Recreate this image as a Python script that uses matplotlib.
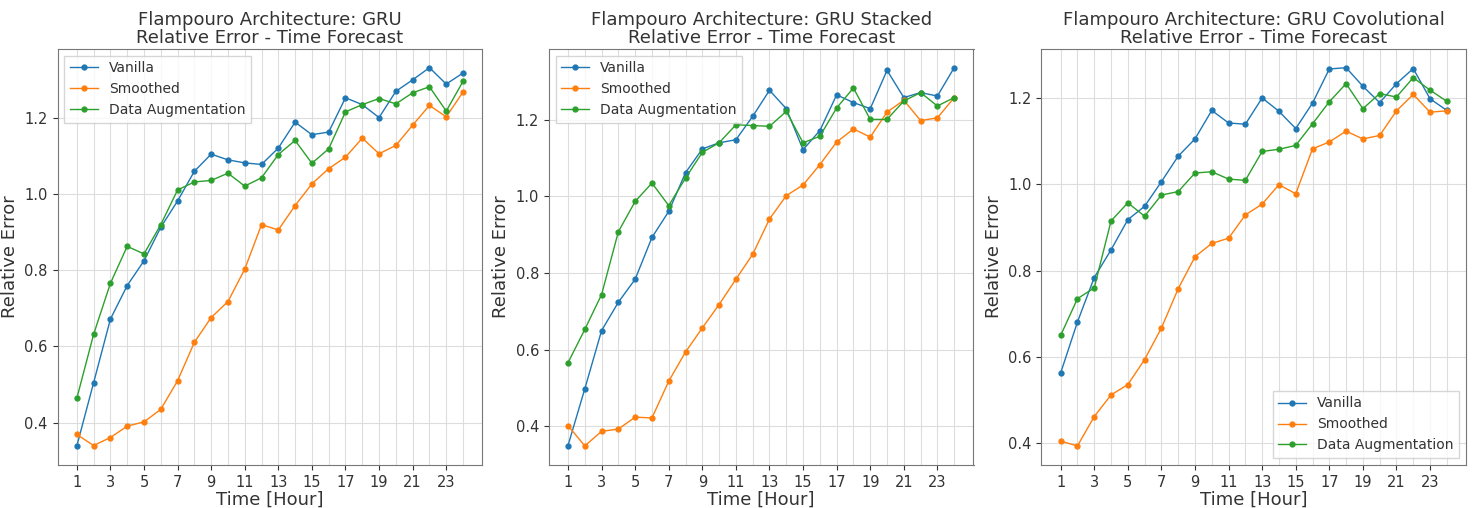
import matplotlib
matplotlib.use("Agg")
import matplotlib.pyplot as plt
import numpy as np

hours = list(range(1, 25))
series_names = ["Vanilla", "Smoothed", "Data Augmentation"]
titles = ["Flampouro Architecture: GRU",
          "Flampouro Architecture: GRU Stacked",
          "Flampouro Architecture: GRU Covolutional"]

# GRU
gru_vanilla = [0.339, 0.505, 0.672, 0.760, 0.825, 0.913, 0.982, 1.060, 1.105, 1.090,
               1.082, 1.078, 1.121, 1.189, 1.156, 1.163, 1.253, 1.235, 1.201, 1.270,
               1.300, 1.332, 1.289, 1.318]
gru_smoothed = [0.369, 0.340, 0.361, 0.391, 0.402, 0.435, 0.510, 0.611, 0.676, 0.718,
                0.803, 0.920, 0.906, 0.970, 1.027, 1.067, 1.097, 1.147, 1.106, 1.128,
                1.181, 1.233, 1.203, 1.268]
gru_augmented = [0.464, 0.632, 0.766, 0.863, 0.843, 0.920, 1.011, 1.032, 1.036, 1.055,
                 1.021, 1.043, 1.104, 1.141, 1.081, 1.119, 1.216, 1.235, 1.251, 1.237,
                 1.266, 1.282, 1.218, 1.296]

# GRU Stacked
stacked_vanilla = [0.350, 0.498, 0.650, 0.724, 0.784, 0.893, 0.961, 1.062, 1.124, 1.140,
                   1.148, 1.209, 1.277, 1.229, 1.122, 1.172, 1.265, 1.245, 1.229, 1.329,
                   1.258, 1.271, 1.262, 1.336]
stacked_smoothed = [0.402, 0.349, 0.387, 0.393, 0.424, 0.422, 0.518, 0.594, 0.657, 0.718,
                    0.784, 0.849, 0.941, 1.002, 1.030, 1.083, 1.142, 1.176, 1.155, 1.220,
                    1.251, 1.198, 1.205, 1.258]
stacked_augmented = [0.566, 0.653, 0.744, 0.908, 0.987, 1.035, 0.976, 1.048, 1.115, 1.140,
                     1.187, 1.185, 1.183, 1.222, 1.140, 1.157, 1.231, 1.283, 1.201, 1.201,
                     1.249, 1.271, 1.236, 1.258]

# GRU Convolutional
conv_vanilla = [0.563, 0.681, 0.784, 0.848, 0.918, 0.949, 1.006, 1.065, 1.105, 1.171,
                1.142, 1.139, 1.200, 1.169, 1.129, 1.188, 1.267, 1.270, 1.227, 1.189,
                1.233, 1.268, 1.198, 1.171]
conv_smoothed = [0.405, 0.394, 0.462, 0.512, 0.536, 0.594, 0.667, 0.758, 0.832, 0.863,
                 0.875, 0.929, 0.954, 0.999, 0.978, 1.082, 1.098, 1.123, 1.105, 1.113,
                 1.170, 1.208, 1.167, 1.170]
conv_augmented = [0.650, 0.735, 0.760, 0.915, 0.957, 0.926, 0.975, 0.983, 1.026, 1.029,
                  1.012, 1.009, 1.076, 1.081, 1.090, 1.140, 1.191, 1.233, 1.175, 1.210,
                  1.202, 1.247, 1.218, 1.192]

panels = [
    [gru_vanilla, gru_smoothed, gru_augmented],
    [stacked_vanilla, stacked_smoothed, stacked_augmented],
    [conv_vanilla, conv_smoothed, conv_augmented],
]
legend_locs = ["upper left", "upper left", "lower right"]
colors = ["#1f77b4", "#ff7f0e", "#2ca02c"]

plt.rcParams["font.family"] = "DejaVu Sans"
text_color = "#333333"

fig = plt.figure(figsize=(14.75, 5.08), dpi=100)
lefts = [0.039, 0.372, 0.706]
for k in range(3):
    ax = fig.add_axes([lefts[k], 0.085, 0.288, 0.819])
    for name, vals, c in zip(series_names, panels[k], colors):
        ax.plot(hours, vals, marker="o", ms=3.5, lw=1.0, color=c, label=name)
    ax.set_title(titles[k] + "\nRelative Error - Time Forecast",
                 fontsize=13, color=text_color, pad=4, linespacing=1.0)
    ax.set_xlabel("Time [Hour]", fontsize=13, color=text_color, labelpad=1)
    ax.set_ylabel("Relative Error", fontsize=13, color=text_color)
    ax.set_xticks(np.arange(1, 25, 2))
    ax.set_xticks(np.arange(2, 25, 2), minor=True)
    ax.set_xlim(-0.15, 25.15)
    ax.set_yticks([0.4, 0.6, 0.8, 1.0, 1.2])
    ax.tick_params(axis="both", which="major", labelsize=10.5, colors=text_color,
                   length=3.5, width=0.8)
    ax.tick_params(axis="x", which="minor", length=0)
    ax.grid(True, which="both", color="#dddddd", lw=0.8)
    for s in ax.spines.values():
        s.set_color("#777777")
    leg = ax.legend(loc=legend_locs[k], fontsize=10, frameon=True, fancybox=False)
    leg.get_frame().set_edgecolor("#cccccc")
    for t in leg.get_texts():
        t.set_color(text_color)

fig.savefig("out.png", dpi=100)
